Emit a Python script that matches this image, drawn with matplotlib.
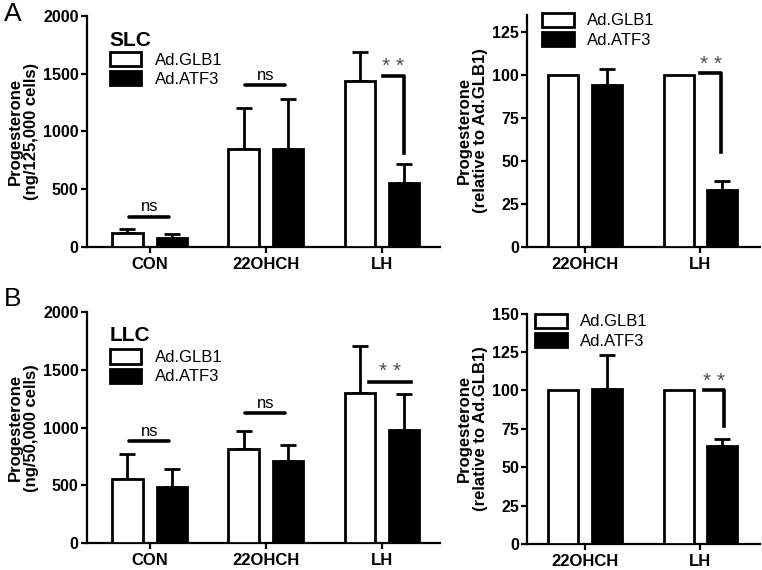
import matplotlib
matplotlib.use("Agg")
import matplotlib.pyplot as plt
from matplotlib.patches import Patch

plt.rcParams["font.family"] = ["Liberation Sans", "DejaVu Sans"]

# --- data ---
groups_abs = ["CON", "22OHCH", "LH"]
groups_rel = ["22OHCH", "LH"]

slc_glb1 = [120, 850, 1435]
slc_glb1_err = [30, 350, 250]
slc_atf3 = [80, 845, 552]
slc_atf3_err = [30, 435, 168]

slc_rel_glb1 = [100, 100]
slc_rel_atf3 = [94, 33]
slc_rel_atf3_err = [9.5, 5.5]

llc_glb1 = [555, 815, 1300]
llc_glb1_err = [215, 155, 405]
llc_atf3 = [485, 710, 980]
llc_atf3_err = [155, 138, 310]

llc_rel_glb1 = [100, 100]
llc_rel_atf3 = [101, 64]
llc_rel_atf3_err = [22, 4.5]

LW = 2.0
OFF = 0.19
W = 0.26


def bars(ax, n, glb1, atf3, glb1_err=None, atf3_err=None):
    xs = list(range(n))
    xg = [x - OFF for x in xs]
    xa = [x + OFF for x in xs]
    ax.bar(xg, glb1, W, color="white", edgecolor="black", linewidth=LW, zorder=3)
    ax.bar(xa, atf3, W, color="black", edgecolor="black", linewidth=LW, zorder=3)
    if glb1_err is not None:
        ax.errorbar(xg, glb1, yerr=[[0] * n, glb1_err], fmt="none", ecolor="black",
                    elinewidth=LW, capsize=6, capthick=LW, zorder=2)
    if atf3_err is not None:
        ax.errorbar(xa, atf3, yerr=[[0] * n, atf3_err], fmt="none", ecolor="black",
                    elinewidth=LW, capsize=6, capthick=LW, zorder=2)


def style(ax, labels, ylim, yticks, xlim, ylabel):
    ax.set_xlim(*xlim)
    ax.set_ylim(*ylim)
    ax.set_yticks(yticks)
    ax.set_xticks(range(len(labels)))
    ax.set_xticklabels(labels, fontsize=12, fontweight="bold")
    for t in ax.get_yticklabels():
        t.set_fontweight("bold")
        t.set_fontsize(11.5)
    ax.spines["top"].set_visible(False)
    ax.spines["right"].set_visible(False)
    ax.spines["left"].set_linewidth(1.6)
    ax.spines["bottom"].set_linewidth(1.6)
    ax.tick_params(width=1.6, length=4, pad=2)
    ax.tick_params(axis="x", pad=3)
    ax.set_ylabel(ylabel, fontsize=12, fontweight="bold", linespacing=1.05, labelpad=3)


def legend(ax, x, y):
    h = [Patch(facecolor="white", edgecolor="black", linewidth=LW, label="Ad.GLB1"),
         Patch(facecolor="black", edgecolor="black", linewidth=LW, label="Ad.ATF3")]
    ax.legend(handles=h, loc="upper left", bbox_to_anchor=(x, y), frameon=False,
              fontsize=12, handlelength=1.9, handleheight=0.95, handletextpad=0.8,
              borderpad=0, borderaxespad=0, labelspacing=0.2)


def ns(ax, x, y, h):
    ax.plot([x - 0.18, x + 0.17], [y, y], color="black", lw=2.6, solid_capstyle="round")
    ax.text(x, y + h, "ns", ha="center", va="bottom", fontsize=12)


def star_text(ax, x, y):
    ax.text(x, y, "* *", ha="center", va="center", fontsize=15, color="#505050")


def stars(ax, x0, x1, y, ybot, ty):
    ax.plot([x0, x1, x1], [y, y, ybot], color="black", lw=2.6)
    star_text(ax, (x0 + x1) / 2, ty)


fig = plt.figure(figsize=(7.62, 5.70), dpi=100)

# A left
ax1 = fig.add_axes([0.114, 0.567, 0.463, 0.405])
bars(ax1, 3, slc_glb1, slc_atf3, slc_glb1_err, slc_atf3_err)
style(ax1, groups_abs, (0, 2000), [0, 500, 1000, 1500, 2000], (-0.54, 2.5),
      "Progesterone\n(ng/125,000 cells)")
legend(ax1, 0.065, 0.845)
ax1.text(0.065, 0.895, "SLC", transform=ax1.transAxes, fontsize=15, fontweight="bold",
         va="center", ha="left")
ns(ax1, 0, 262, 20)
ns(ax1, 1, 1400, 20)
stars(ax1, 2.01, 2.19, 1480, 815, 1560)

# A right
ax2 = fig.add_axes([0.692, 0.567, 0.306, 0.407])
bars(ax2, 2, slc_rel_glb1, slc_rel_atf3, None, slc_rel_atf3_err)
style(ax2, groups_rel, (0, 135), [0, 25, 50, 75, 100, 125], (-0.5, 1.52),
      "Progesterone\n(relative to Ad.GLB1)")
legend(ax2, 0.064, 1.01)
stars(ax2, 1.0, 1.18, 101, 55, 106)

# B left
ax3 = fig.add_axes([0.114, 0.047, 0.463, 0.405])
bars(ax3, 3, llc_glb1, llc_atf3, llc_glb1_err, llc_atf3_err)
style(ax3, groups_abs, (0, 2000), [0, 500, 1000, 1500, 2000], (-0.54, 2.5),
      "Progesterone\n(ng/50,000 cells)")
legend(ax3, 0.065, 0.84)
ax3.text(0.065, 0.9, "LLC", transform=ax3.transAxes, fontsize=15, fontweight="bold",
         va="center", ha="left")
ns(ax3, 0, 883, 20)
ns(ax3, 1, 1126, 20)
ax3.plot([1.89, 2.25], [1400, 1400], color="black", lw=2.6)
star_text(ax3, 2.07, 1490)

# B right
ax4 = fig.add_axes([0.692, 0.045, 0.306, 0.405])
bars(ax4, 2, llc_rel_glb1, llc_rel_atf3, None, llc_rel_atf3_err)
style(ax4, groups_rel, (0, 150), [0, 25, 50, 75, 100, 125, 150], (-0.5, 1.52),
      "Progesterone\n(relative to Ad.GLB1)")
legend(ax4, 0.034, 1.0)
stars(ax4, 1.03, 1.2, 100, 77, 106)

fig.text(0.005, 0.975, "A", fontsize=19, va="center", ha="left")
fig.text(0.005, 0.475, "B", fontsize=19, va="center", ha="left")

fig.savefig("out.png", dpi=100)
